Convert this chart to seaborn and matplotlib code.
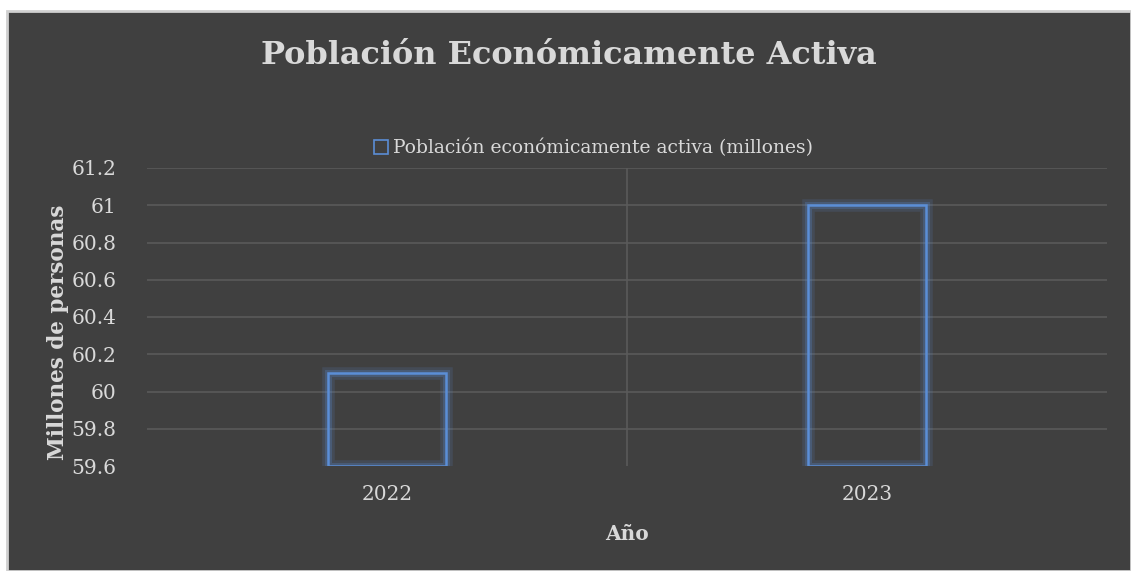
import matplotlib
matplotlib.use("Agg")
import matplotlib.pyplot as plt
import matplotlib.patheffects as pe
from matplotlib.patches import Rectangle
import seaborn as sns
import pandas as pd

years = ["2022", "2023"]
values = [60.1, 61.0]
yticks = [59.6, 59.8, 60.0, 60.2, 60.4, 60.6, 60.8, 61.0, 61.2]
ytick_labels = ["59.6", "59.8", "60", "60.2", "60.4", "60.6", "60.8", "61", "61.2"]
title = "Población Económicamente Activa"
series_name = "Población económicamente activa (millones)"

sns.set_theme(style="dark")
plt.rcParams['font.family'] = ['DejaVu Serif']

BG = "#404040"
TXT = "#d9d9d9"
GRID = "#5a5a5a"
BLUE = "#5b8ed6"

fig = plt.figure(figsize=(11.31, 5.71), dpi=100)
fig.patch.set_facecolor("white")
fig.patches.append(Rectangle((7/1131, 0), 1 - 7/1131, 1 - 11/571, transform=fig.transFigure,
                             facecolor=BG, edgecolor="#d0d0d0", linewidth=2, zorder=-10))

ax = fig.add_axes([147/1131, 1 - 466/571, 960/1131, 298/571])
ax.set_facecolor(BG)

df = pd.DataFrame({"year": years, "value": values})
sns.barplot(data=df, x="year", y="value", fill=False, width=0.245, ax=ax,
            color=BLUE, linewidth=1.8, label=series_name, zorder=3)

ymin, ymax = yticks[0], yticks[-1]
for p in ax.patches:
    top = p.get_y() + p.get_height()
    p.set_y(ymin)
    p.set_height(top - ymin)
    p.set_edgecolor(BLUE)
    p.set_path_effects([pe.Stroke(linewidth=9, foreground=BLUE, alpha=0.15),
                        pe.Stroke(linewidth=5, foreground=BLUE, alpha=0.25),
                        pe.Normal()])

ax.set_ylim(ymin, ymax)
ax.set_xlim(-0.5, len(years) - 0.5)
ax.set_yticks(yticks)
ax.set_yticklabels(ytick_labels)
for y in yticks[1:]:
    ax.axhline(y, color=GRID, linewidth=1.2, zorder=1)
for i in range(len(years) - 1):
    ax.axvline(i + 0.5, color=GRID, linewidth=1.2, zorder=1)
ax.grid(False)
for s in ax.spines.values():
    s.set_visible(False)

ax.tick_params(axis="both", colors=TXT, labelsize=14.5, length=0)
ax.tick_params(axis="y", pad=22)
ax.tick_params(axis="x", pad=14)
for t in ax.get_yticklabels():
    t.set_color(TXT)
for t in ax.get_xticklabels():
    t.set_color(TXT)

ax.set_xlabel("Año", color=TXT, fontsize=14.5, fontweight="bold", labelpad=14)
ax.set_ylabel("Millones de personas", color=TXT, fontsize=15.5, fontweight="bold", labelpad=4)
ax.yaxis.set_label_coords(-78/960, 0.45)

fig.text(0.503, 1 - 56/571, title, ha="center", va="center", color=TXT,
         fontsize=23, fontweight="bold")

leg = ax.legend(loc="center", bbox_to_anchor=(0.465, 1 + 20/298), frameon=False,
                fontsize=13.5, handlelength=0.75, handleheight=0.75, handletextpad=0.3)
for t in leg.get_texts():
    t.set_color(TXT)
for h in leg.legend_handles:
    h.set_path_effects([])
    h.set_linewidth(1.2)

fig.savefig("out.png", dpi=100, facecolor=fig.get_facecolor())
